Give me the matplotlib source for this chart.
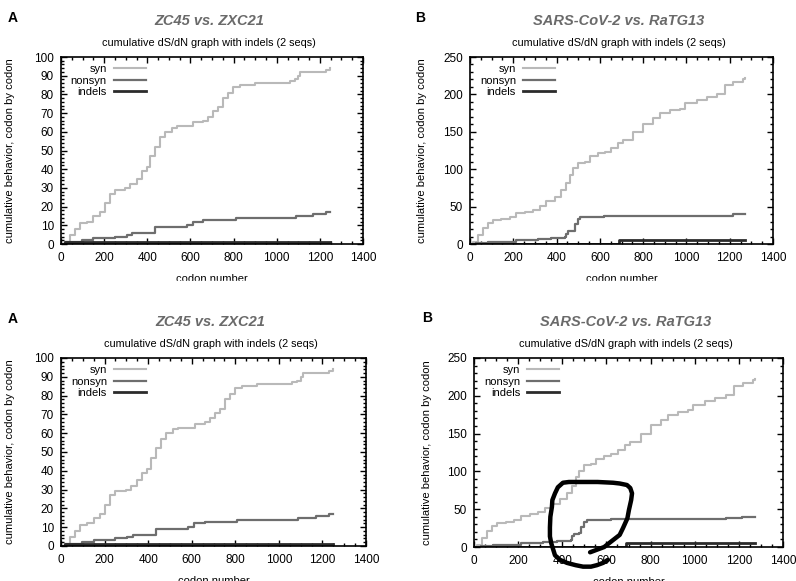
import matplotlib
matplotlib.use("Agg")
import matplotlib.pyplot as plt
from matplotlib.ticker import MultipleLocator
from matplotlib.patches import Rectangle

plt.rcParams['font.family'] = ['Liberation Sans', 'DejaVu Sans']

#----------------------------------------------------------------------------------------#
# data (step curves, value holds until next codon)

# ZC45 vs. ZXC21
a_syn_x = [0, 19, 42, 65, 88, 119, 150, 181, 204, 227, 250, 297, 320, 351, 374, 397, 413,
           436, 459, 482, 513, 536, 613, 660, 683, 706, 729, 752, 776, 799, 830, 900, 1000,
           1060, 1085, 1100, 1110, 1230, 1248]
a_syn_y = [0, 1, 5, 8, 11, 12, 15, 17, 22, 27, 29, 30, 32, 35, 39, 41, 47,
           52, 57, 60, 62, 63, 65, 66, 68, 71, 73, 78, 81, 84, 85, 86, 86,
           87, 88, 90, 92, 93, 94]
a_non_x = [0, 20, 96, 150, 250, 305, 330, 436, 583, 610, 660, 810, 1090, 1170, 1230, 1248]
a_non_y = [0, 1, 2, 3, 4, 5, 6, 9, 10, 12, 13, 14, 15, 16, 17, 17]
a_ind_x = [0, 20, 1248]
a_ind_y = [0, 1, 1]

# SARS-CoV-2 vs. RaTG13
b_syn_x = [0, 14, 37, 60, 83, 106, 145, 183, 214, 253, 291, 322, 353, 391, 422, 445, 461,
           476, 499, 530, 553, 591, 622, 653, 684, 708, 755, 801, 847, 878, 924, 970, 994,
           1048, 1094, 1140, 1178, 1217, 1263, 1272]
b_syn_y = [0, 3, 12, 21, 28, 32, 33, 36, 41, 43, 46, 51, 57, 63, 72, 81, 92,
           101, 108, 110, 117, 121, 123, 128, 135, 139, 150, 161, 168, 175, 179, 181, 188,
           193, 197, 201, 213, 217, 221, 222]
b_non_x = [0, 30, 85, 214, 314, 374, 438, 445, 453, 476, 484, 499, 510, 620, 1140, 1215, 1272]
b_non_y = [0, 1, 3, 5, 7, 8, 9, 14, 17, 18, 27, 33, 36, 37, 38, 40, 40]
b_ind_x = [0, 688, 1272]
b_ind_y = [0, 5, 5]

# hand drawn loop on the lower right copy (codon, value)
loop_x = [526, 590, 616, 660, 675, 695, 702, 712, 716, 708, 693, 660, 630, 560, 480, 430,
          403, 380, 367, 355, 353, 346, 344, 344, 350, 367, 390, 421, 460, 494, 530, 557, 585, 607]
loop_y = [-7, 0, 6, 16, 25, 38, 49, 62, 71, 78, 82, 84, 85, 86, 86, 86,
          85, 79, 71, 62, 53, 40, 26, 14, 5, -11, -17, -21, -24, -26, -26, -24, -21, -17]

c_syn = '#b9b9b9'
c_non = '#6e6e6e'
c_ind = '#2b2b2b'


def panel(ax, letter, title, series, ymax, ymaj, ymin, letter_xy, ylab_x):
    for (x, y), col, lw, lab in zip(series, [c_syn, c_non, c_ind], [1.5, 1.6, 2.0],
                                    ['syn', 'nonsyn', 'indels']):
        ax.step(x, y, where='post', color=col, lw=lw, label=lab)
    ax.set_xlim(0, 1400)
    ax.set_ylim(0, ymax)
    ax.xaxis.set_major_locator(MultipleLocator(200))
    ax.xaxis.set_minor_locator(MultipleLocator(50))
    ax.yaxis.set_major_locator(MultipleLocator(ymaj))
    ax.yaxis.set_minor_locator(MultipleLocator(ymin))
    ax.tick_params(which='both', direction='in', top=True, right=True, labelsize=8.5,
                   width=1.0, colors='black')
    ax.tick_params(which='major', length=4.5)
    ax.tick_params(which='minor', length=2.2)
    ax.tick_params(axis='x', which='major', pad=6)
    ax.tick_params(axis='y', which='major', pad=5)
    for s in ax.spines.values():
        s.set_linewidth(1.2)
    ax.set_xlabel('codon number', fontsize=8)
    ax.xaxis.set_label_coords(0.5, -0.16)
    ax.set_ylabel('cumulative behavior, codon by codon', fontsize=8)
    ax.yaxis.set_label_coords(ylab_x, 0.5)
    ax.text(0.49, 1.19, title, transform=ax.transAxes, ha='center', va='center',
            fontsize=10.5, fontweight='bold', fontstyle='italic', color='#6a6a6a')
    ax.text(0.49, 1.075, 'cumulative dS/dN graph with indels (2 seqs)', transform=ax.transAxes,
            ha='center', va='center', fontsize=7.8)
    ax.figure.text(letter_xy[0] / 796, 1 - letter_xy[1] / 581, letter, ha='center', va='center',
                   fontsize=10, fontweight='bold')
    ax.legend(loc='upper left', bbox_to_anchor=(0.025, 0.975), frameon=False, markerfirst=False,
              fontsize=8, handlelength=2.9, handletextpad=0.6, labelspacing=0.15,
              borderaxespad=0.0, borderpad=0.2)


fig = plt.figure(figsize=(7.96, 5.81), dpi=100)

ax1 = fig.add_axes([61 / 796, 1 - 244 / 581, 302 / 796, 187 / 581])
ax2 = fig.add_axes([470 / 796, 1 - 244 / 581, 303 / 796, 187 / 581])
ax3 = fig.add_axes([61 / 796, 1 - 546 / 581, 305 / 796, 188 / 581])
ax4 = fig.add_axes([474 / 796, 1 - 547 / 581, 309 / 796, 189 / 581])

a_series = [(a_syn_x, a_syn_y), (a_non_x, a_non_y), (a_ind_x, a_ind_y)]
b_series = [(b_syn_x, b_syn_y), (b_non_x, b_non_y), (b_ind_x, b_ind_y)]

panel(ax1, 'A', 'ZC45 vs. ZXC21', a_series, 100, 10, 2, (13, 18), -0.152)
panel(ax2, 'B', 'SARS-CoV-2 vs. RaTG13', b_series, 250, 50, 10, (420, 18), -0.141)
panel(ax3, 'A', 'ZC45 vs. ZXC21', a_series, 100, 10, 2, (13, 319), -0.150)
panel(ax4, 'B', 'SARS-CoV-2 vs. RaTG13', b_series, 250, 50, 10, (427, 318), -0.136)

# marker pen loop
ax4.plot(loop_x, loop_y, color='black', lw=3.2, solid_capstyle='round',
         solid_joinstyle='round', clip_on=False, zorder=5)

# upper row is cut off just under the x label
fig.add_artist(Rectangle((0, 1 - 300 / 581), 1, 19 / 581, transform=fig.transFigure,
                         color='white', zorder=10))

plt.savefig("out.png", dpi=100)
